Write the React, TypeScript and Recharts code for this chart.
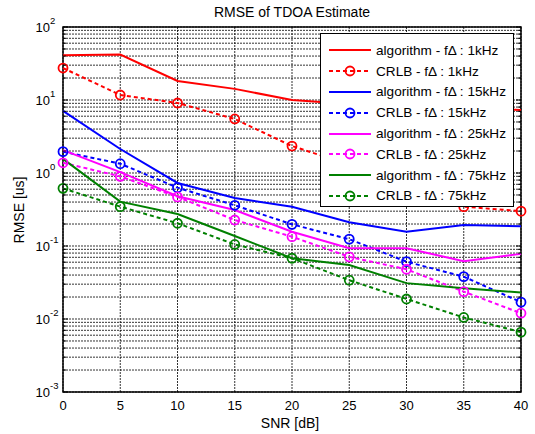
import { LineChart, Line, XAxis, YAxis, CartesianGrid, ReferenceArea } from "recharts";

// ---------------------------------------------------------------------------
// Data
// ---------------------------------------------------------------------------

const snr = [0, 5, 10, 15, 20, 25, 30, 35, 40];

const alg1k = [41, 42, 18.2, 14.2, 10, 8.8, 8.2, 7.8, 7.3];
const crlb1k = [27.4, 11.7, 9.1, 5.5, 2.34, 1.3, 0.65, 0.346, 0.3];
const alg15k = [7.1, 2.13, 0.73, 0.455, 0.345, 0.211, 0.157, 0.194, 0.186];
const crlb15k = [1.96, 1.34, 0.63, 0.361, 0.198, 0.124, 0.061, 0.038, 0.017];
const alg25k = [2.06, 1.03, 0.48, 0.311, 0.157, 0.093, 0.093, 0.062, 0.078];
const crlb25k = [1.38, 0.9, 0.47, 0.227, 0.134, 0.071, 0.048, 0.0237, 0.012];
const alg75k = [1.56, 0.405, 0.274, 0.137, 0.068, 0.055, 0.031, 0.0264, 0.023];
const crlb75k = [0.616, 0.346, 0.205, 0.105, 0.068, 0.034, 0.0188, 0.0105, 0.0066];

const xTicks = [0, 5, 10, 15, 20, 25, 30, 35, 40];
const decades = [-3, -2, -1, 0, 1, 2];

// all 1..9 x 10^k ticks for the MATLAB-style log grid
const yTicks: number[] = [];
decades.forEach((d) => {
  const mults = d === 2 ? [1] : [1, 2, 3, 4, 5, 6, 7, 8, 9];
  mults.forEach((m) => yTicks.push(+(m * Math.pow(10, d)).toPrecision(3)));
});

const series = [
  { key: "alg1k", name: "algorithm - f\u0394 : 1kHz", color: "#ff0000", dashed: false, values: alg1k },
  { key: "crlb1k", name: "CRLB - f\u0394 : 1kHz", color: "#ff0000", dashed: true, values: crlb1k },
  { key: "alg15k", name: "algorithm - f\u0394 : 15kHz", color: "#0000ff", dashed: false, values: alg15k },
  { key: "crlb15k", name: "CRLB - f\u0394 : 15kHz", color: "#0000ff", dashed: true, values: crlb15k },
  { key: "alg25k", name: "algorithm - f\u0394 : 25kHz", color: "#ff00ff", dashed: false, values: alg25k },
  { key: "crlb25k", name: "CRLB - f\u0394 : 25kHz", color: "#ff00ff", dashed: true, values: crlb25k },
  { key: "alg75k", name: "algorithm - f\u0394 : 75kHz", color: "#008000", dashed: false, values: alg75k },
  { key: "crlb75k", name: "CRLB - f\u0394 : 75kHz", color: "#008000", dashed: true, values: crlb75k },
];

const data = snr.map((x, i) => {
  const row: Record<string, number> = { snr: x };
  series.forEach((s) => (row[s.key] = s.values[i]));
  return row;
});

const FONT = "'Liberation Sans', Arial, sans-serif";

// ---------------------------------------------------------------------------
// Helpers
// ---------------------------------------------------------------------------

function YTick(props: any) {
  const { y, payload } = props;
  const e = Math.log10(payload.value);
  const isDecade = Math.abs(e - Math.round(e)) < 1e-6;
  return (
    <g>
      {/* inward minor/major tick marks */}
      <line x1={63} x2={isDecade ? 68 : 66} y1={y} y2={y} stroke="#000" />
      <line x1={521} x2={isDecade ? 516 : 518} y1={y} y2={y} stroke="#000" />
      {isDecade && (
        <>
          <text x={50} y={y + 5} textAnchor="end" fontSize={13} fill="#000" fontFamily={FONT}>
            10
          </text>
          <text x={50} y={y - 3} textAnchor="start" fontSize={9.5} fill="#000" fontFamily={FONT}>
            {Math.round(e)}
          </text>
        </>
      )}
    </g>
  );
}

function XTick(props: any) {
  const { x, payload } = props;
  return (
    <text x={x} y={410} textAnchor="middle" fontSize={13} fill="#000" fontFamily={FONT}>
      {payload.value}
    </text>
  );
}

// ---------------------------------------------------------------------------
// Component
// ---------------------------------------------------------------------------

export default function App() {
  return (
    <div style={{ position: "absolute", left: 0, top: 0, width: 535, height: 434, background: "#fff", fontFamily: FONT }}>
      <LineChart
        width={535}
        height={434}
        data={data}
        margin={{ top: 27, right: 14, left: 0, bottom: 0 }}
      >
        <CartesianGrid
          stroke="#000"
          strokeOpacity={0.8}
          strokeDasharray="2 1"
          horizontalValues={yTicks}
        />
        <XAxis
          dataKey="snr"
          type="number"
          domain={[0, 40]}
          ticks={xTicks}
          height={42}
          axisLine={false}
          tickLine={false}
          tick={<XTick />}
        />
        <YAxis
          scale="log"
          domain={[0.001, 100]}
          ticks={yTicks}
          allowDataOverflow
          width={63}
          axisLine={false}
          tickLine={false}
          interval={0}
          tick={<YTick />}
        />
        <ReferenceArea x1={0} x2={40} y1={0.001} y2={100} stroke="#000" strokeWidth={1.5} fill="none" />
        {series.map((s) => (
          <Line
            key={s.key}
            dataKey={s.key}
            stroke={s.color}
            strokeWidth={2}
            strokeDasharray={s.dashed ? "4 3" : undefined}
            dot={s.dashed ? { r: 4.5, stroke: s.color, strokeWidth: 1.8, fill: "none", strokeDasharray: "" } : false}
            isAnimationActive={false}
          />
        ))}
        <text x={292} y={17} textAnchor="middle" fontSize={14} fill="#000" fontFamily={FONT}>
          RMSE of TDOA Estimate
        </text>
        <text x={290} y={428} textAnchor="middle" fontSize={14} fill="#000" fontFamily={FONT}>
          SNR [dB]
        </text>
        <text
          x={24}
          y={210}
          textAnchor="middle"
          fontSize={14}
          fill="#000"
          fontFamily={FONT}
          transform="rotate(-90 24 210)"
        >
          RMSE [us]
        </text>
      </LineChart>

      {/* Manual legend */}
      <div
        style={{
          position: "absolute",
          left: 320,
          top: 33,
          width: 194,
          height: 174,
          background: "#fff",
          border: "1px solid #000",
          boxSizing: "border-box",
          paddingTop: 6,
        }}
      >
        {series.map((s) => (
          <div key={s.key} style={{ display: "flex", alignItems: "center", height: 20.8, fontSize: 13.6, color: "#000", whiteSpace: "nowrap" }}>
            <svg width={56} height={14} style={{ marginLeft: 6, flex: "none" }}>
              <line
                x1={2}
                x2={44}
                y1={7}
                y2={7}
                stroke={s.color}
                strokeWidth={2}
                strokeDasharray={s.dashed ? "4 3" : undefined}
              />
              {s.dashed && <circle cx={23} cy={7} r={4.5} stroke={s.color} strokeWidth={1.8} fill="none" />}
            </svg>
            <span style={{ marginLeft: -7 }}>{s.name}</span>
          </div>
        ))}
      </div>
    </div>
  );
}
